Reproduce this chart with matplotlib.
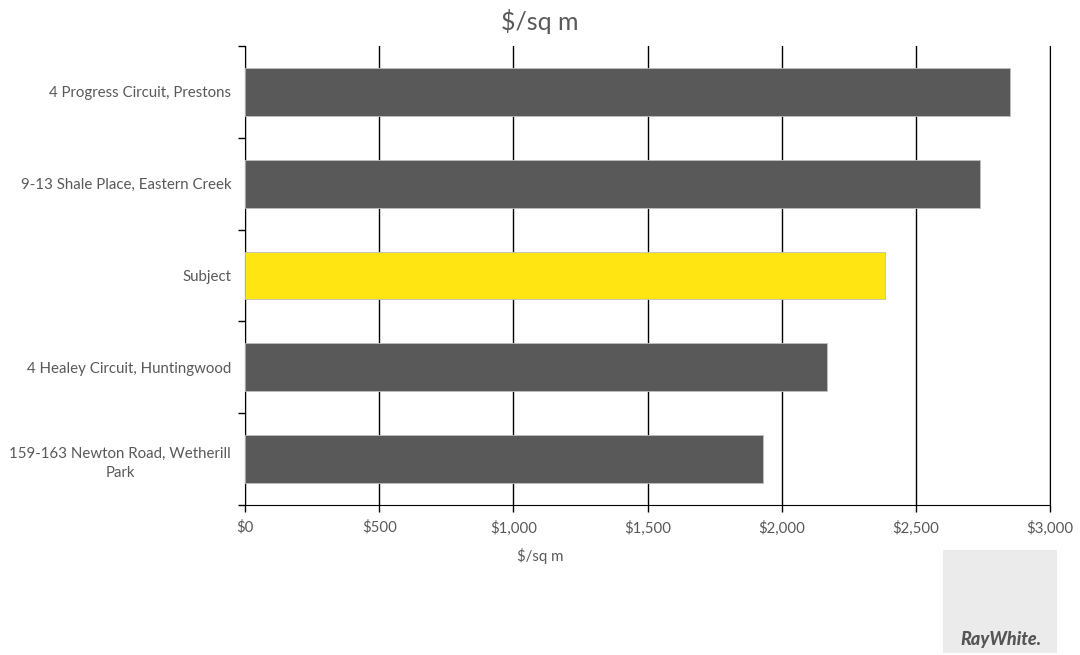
import matplotlib
matplotlib.use("Agg")
import matplotlib.pyplot as plt
from matplotlib.patches import Rectangle
from matplotlib.ticker import FuncFormatter, FixedLocator

plt.rcParams['font.family'] = ['Lato', 'DejaVu Sans']

# sale comparables, bottom to top
labels = ["159-163 Newton Road, Wetherill\nPark",
          "4 Healey Circuit, Huntingwood",
          "Subject",
          "9-13 Shale Place, Eastern Creek",
          "4 Progress Circuit, Prestons"]
rates = [1930, 2169, 2385, 2739, 2851]
colours = ["#595959", "#595959", "#FFE512", "#595959", "#595959"]
xticks = [0, 500, 1000, 1500, 2000, 2500, 3000]

text_col = "#595959"

fig = plt.figure(figsize=(10.8, 6.55), dpi=100)
ax = fig.add_axes([0.2269, 0.229, 0.7453, 0.7007])

ypos = list(range(len(labels)))
ax.barh(ypos, rates, height=0.52, color=colours, edgecolor="#bfbfbf",
        linewidth=0.6, zorder=3)

ax.set_xlim(0, 3000)
ax.set_ylim(-0.5, len(labels) - 0.5)
ax.set_xticks(xticks)
ax.xaxis.set_major_formatter(FuncFormatter(lambda v, p: "${:,.0f}".format(v)))
ax.grid(axis="x", color="black", linewidth=1.0, zorder=1)

# category labels centred, tick marks on boundaries
ax.set_yticks(ypos)
ax.set_yticklabels(labels, ha="right", multialignment="center", linespacing=1.45)
ax.yaxis.set_minor_locator(FixedLocator([i - 0.5 for i in range(len(labels) + 1)]))
ax.tick_params(axis="y", which="major", length=0, pad=10, labelsize=10.8,
               labelcolor=text_col)
ax.tick_params(axis="y", which="minor", length=5, width=1, color="black")
ax.tick_params(axis="x", length=5, width=1, color="black", labelsize=10.8,
               labelcolor=text_col, pad=6)

ax.spines["top"].set_visible(False)
for s in ["left", "bottom", "right"]:
    ax.spines[s].set_color("black")

fig.text(0.5, 1 - 556 / 655, "$/sq m", ha="center", va="center",
         fontsize=10.8, color=text_col)
fig.text(0.5, 1 - 22 / 655, "$/sq m", ha="center", va="center", fontsize=18,
         color=text_col)

# brand tile in the corner
fig.patches.append(Rectangle((943 / 1080, 2 / 655), 114 / 1080, 103 / 655,
                             transform=fig.transFigure, facecolor="#ebebeb",
                             edgecolor="none"))
fig.text(1001 / 1080, 15 / 655, "RayWhite.", ha="center", va="center",
         fontsize=13, fontweight="black", fontstyle="italic", color="#555555")

fig.savefig("out.png", dpi=100)
